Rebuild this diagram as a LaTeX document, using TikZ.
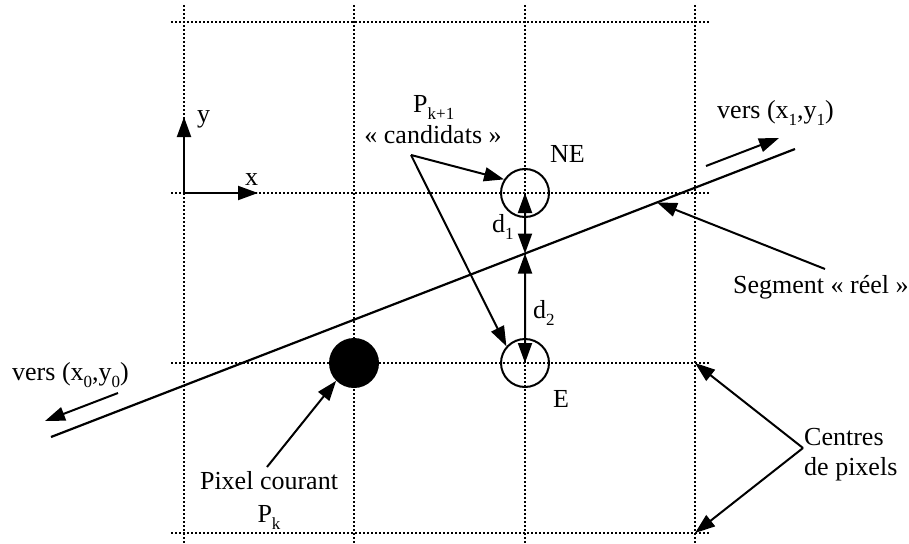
\documentclass[tikz,border=0pt]{standalone}
\usepackage{fontspec}
\setmainfont{Liberation Serif}
\usetikzlibrary{arrows.meta,calc}
\newcommand\sbs[1]{\raisebox{-0.27em}{\fontsize{17}{17}\selectfont #1}}
\begin{document}
\begin{tikzpicture}[x=1pt,y=-1pt, font=\fontsize{26}{30}\selectfont,
 grid/.style={line width=1.6pt, dash pattern=on 1.6pt off 2.4pt},
 main/.style={line width=2.2pt},
 arr/.style={line width=2pt, -{Triangle[length=20pt,width=14pt]}},
 darr/.style={line width=2pt, {Triangle[length=20pt,width=14pt]}-{Triangle[length=20pt,width=14pt]}},
 lab/.style={inner sep=0pt, anchor=base west},
 clab/.style={inner sep=0pt, anchor=base},
 ring/.style={circle, draw, line width=2pt, minimum size=48pt, inner sep=0pt}]
\useasboundingbox (0,0) rectangle (909,543);
% grid
\foreach \x in {184,354,525,695} \draw[grid] (\x,5) -- (\x,543);
\foreach \y in {22,193,363,533} \draw[grid] (171,\y) -- (710,\y);
% axes
\coordinate (O) at (184,193);
\coordinate (ytip) at (184,117);
\coordinate (xtip) at (258,193);
\draw[arr] (O) -- (ytip);
\draw[arr] (O) -- (xtip);
\node[lab] (ylab) at (197,122) {y};
\node[lab] (xlab) at (245,185) {x};
% pixels
\node[ring] (NE) at (525,193) {};
\node[ring] (E) at (525,363) {};
\node[circle, fill, minimum size=50pt, inner sep=0pt] (Pk) at (354,363) {};
% main segment
\coordinate (L0) at (51,437);
\coordinate (L1) at (795,149);
\draw[main] (L0) -- (L1);
\coordinate (C1) at ($(L0)!0.6371!(L1)$);
\coordinate (S) at ($(L0)!0.8145!(L1)$);
% distances
\draw[darr] (NE.center) -- (C1);
\draw[darr] (C1) -- (E.center);
\node[lab] (d1) at (492,232) {d\sbs{1}};
\node[lab] (d2) at (533,318) {d\sbs{2}};
\node[lab] (NElab) at (550,162) {NE};
\node[lab] (Elab) at (553,407) {E};
% candidates
\node[lab] (pk1) at (413,112) {P\sbs{k+1}};
\node[clab] (cand) at (433,143) {« candidats »};
\coordinate (capex) at (411,155);
\draw[arr] (capex) -- (NE.147);
\draw[arr] (capex) -- (E.138);
% vers
\coordinate (v1a) at (706,166);
\coordinate (v1b) at (779,138);
\draw[arr] (v1a) -- (v1b);
\node[lab] (v1lab) at (717,118) {vers (x\sbs{1},y\sbs{1})};
\coordinate (v0a) at (118,393);
\coordinate (v0b) at (45,421);
\draw[arr] (v0a) -- (v0b);
\node[lab] (v0lab) at (12,380) {vers (x\sbs{0},y\sbs{0})};
% segment label
\coordinate (sa) at (825,269);
\draw[arr] (sa) -- (S);
\node[lab] (seglab) at (733,293) {Segment « réel »};
% pixel courant
\coordinate (pa) at (267,467);
\draw[arr] (pa) -- (Pk.225);
\node[clab] (pc1) at (269,489) {Pixel courant};
\node[clab] (pc2) at (269,522) {P\sbs{k}};
% centres
\coordinate (ca) at (803,448);
\coordinate (g1) at (695,363);
\coordinate (g2) at (695,533);
\draw[arr] (ca) -- (g1);
\draw[arr] (ca) -- (g2);
\node[lab] (cen1) at (804,445) {Centres};
\node[lab] (cen2) at (804,475) {de pixels};
\end{tikzpicture}
\end{document}
